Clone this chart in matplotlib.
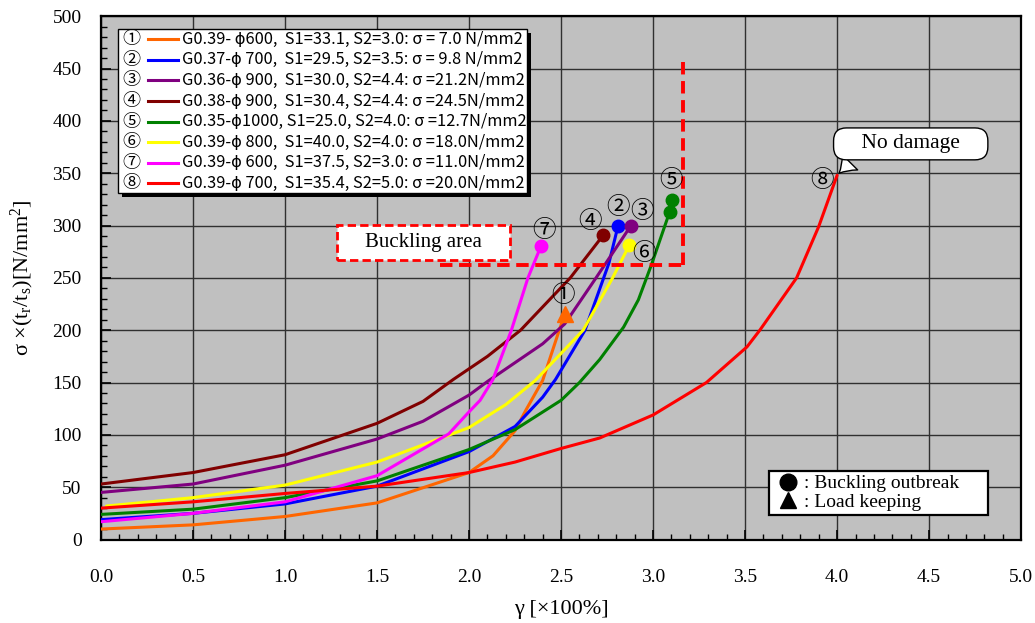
import matplotlib
matplotlib.use("Agg")
import matplotlib.pyplot as plt
from matplotlib.lines import Line2D
from matplotlib.patches import Rectangle
from matplotlib.ticker import MultipleLocator

plt.rcParams['mathtext.fontset'] = 'custom'
plt.rcParams['mathtext.rm'] = 'Liberation Serif'
plt.rcParams['mathtext.it'] = 'Liberation Serif:italic'

SERIF = 'Liberation Serif'
SANS = ['Noto Sans CJK JP', 'DejaVu Sans']
CIRC = ['Noto Sans CJK JP', 'DejaVu Sans']

# ---------------- data ----------------
s1_x = [0, 0.5, 1.0, 1.5, 2.0, 2.13, 2.25, 2.31, 2.40, 2.49, 2.52]
s1_y = [10, 14, 22, 35, 64, 80, 104, 124, 152, 200, 215]
s2_x = [0, 0.5, 1.0, 1.5, 2.0, 2.25, 2.40, 2.47, 2.63, 2.76, 2.81]
s2_y = [19, 25, 34, 51, 84, 108, 136, 153, 200, 264, 300]
s3_x = [0, 0.5, 1.0, 1.5, 1.75, 2.0, 2.1, 2.3, 2.4, 2.52, 2.69, 2.88]
s3_y = [45, 53, 71, 96, 113, 138, 151, 175, 187, 206, 250, 300]
s4_x = [0, 0.5, 1.0, 1.5, 1.75, 1.915, 2.1, 2.28, 2.55, 2.73]
s4_y = [53, 64, 81, 111, 132, 153, 175, 200, 250, 291]
s5_x = [0, 0.5, 1.0, 1.5, 2.0, 2.25, 2.5, 2.6, 2.71, 2.84, 2.92, 2.99, 3.09]
s5_y = [24, 29, 40, 56, 86, 105, 133, 150, 172, 203, 229, 262, 313]
s5_extra_x = [3.105]
s5_extra_y = [324]
s6_x = [0.03, 0.5, 1.0, 1.5, 2.0, 2.2, 2.36, 2.62, 2.78, 2.87]
s6_y = [32, 40, 52, 74, 107, 129, 152, 200, 250, 281]
s7_x = [0, 0.5, 1.0, 1.5, 1.89, 2.0, 2.06, 2.13, 2.23, 2.32, 2.39]
s7_y = [17, 25, 36, 61, 101, 122, 133, 153, 200, 250, 280]
s8_x = [0, 0.5, 1.0, 1.5, 2.0, 2.25, 2.5, 2.71, 3.0, 3.29, 3.51, 3.58, 3.78, 3.90, 4.0]
s8_y = [30, 36, 44, 51, 64, 74, 87, 97, 119, 150, 184, 200, 250, 299, 348]

series_x = [s1_x, s2_x, s3_x, s4_x, s5_x, s6_x, s7_x, s8_x]
series_y = [s1_y, s2_y, s3_y, s4_y, s5_y, s6_y, s7_y, s8_y]
colors = ['#FF6600', '#0000FF', '#800080', '#800000', '#008000', '#FFFF00', '#FF00FF', '#FF0000']
end_markers = ['^', 'o', 'o', 'o', 'o', 'o', 'o', None]
numbers = ['①', '②', '③', '④', '⑤', '⑥', '⑦', '⑧']
legend_labels = [
    'G0.39- ϕ600,  S1=33.1, S2=3.0: σ = 7.0 N/mm2',
    'G0.37-ϕ 700,  S1=29.5, S2=3.5: σ = 9.8 N/mm2',
    'G0.36-ϕ 900,  S1=30.0, S2=4.4: σ =21.2N/mm2',
    'G0.38-ϕ 900,  S1=30.4, S2=4.4: σ =24.5N/mm2',
    'G0.35-ϕ1000, S1=25.0, S2=4.0: σ =12.7N/mm2',
    'G0.39-ϕ 800,  S1=40.0, S2=4.0: σ =18.0N/mm2',
    'G0.39-ϕ 600,  S1=37.5, S2=3.0: σ =11.0N/mm2',
    'G0.39-ϕ 700,  S1=35.4, S2=5.0: σ =20.0N/mm2',
]
# number label positions near curve ends
num_x = [2.51, 2.81, 2.94, 2.66, 3.10, 2.95, 2.41, 3.92]
num_y = [233, 317, 313, 304, 343, 273, 295, 343]

x_ticks = [0.0, 0.5, 1.0, 1.5, 2.0, 2.5, 3.0, 3.5, 4.0, 4.5, 5.0]
y_ticks = [0, 50, 100, 150, 200, 250, 300, 350, 400, 450, 500]

buck_h_x = [1.84, 3.163]
buck_h_y = [262, 262]
buck_v_x = [3.163, 3.163]
buck_v_y = [262, 458]

# ---------------- figure ----------------
fig = plt.figure(figsize=(10.35, 6.23), dpi=100)
ax = fig.add_axes([0.0976, 0.134, 0.889, 0.840])
ax.set_facecolor('#C0C0C0')
ax.set_xlim(0, 5)
ax.set_ylim(0, 500)
ax.set_xticks(x_ticks)
ax.set_yticks(y_ticks)
ax.set_xticklabels([f'{v:.1f}' for v in x_ticks], fontfamily=SERIF, fontsize=14)
ax.set_yticklabels([str(v) for v in y_ticks], fontfamily=SERIF, fontsize=14)
ax.xaxis.set_minor_locator(MultipleLocator(0.1))
ax.yaxis.set_minor_locator(MultipleLocator(10))
ax.tick_params(which='major', direction='in', length=7, width=1.2, pad=21, axis='x')
ax.tick_params(which='major', direction='in', length=7, width=1.2, pad=14, axis='y')
ax.tick_params(which='minor', direction='in', length=4, width=1.0)
ax.grid(True, which='major', color='#303030', lw=1.0)
ax.set_axisbelow(True)
for sp in ax.spines.values():
    sp.set_linewidth(1.6)
    sp.set_color('black')

ax.set_xlabel('γ [×100%]', fontfamily=SERIF, fontsize=16, labelpad=10)
ax.set_ylabel('σ ×(t$_{\\rm r}$/t$_{\\rm s}$)[N/mm$^{2}$]', fontfamily=SERIF, fontsize=16, labelpad=12)

# curves
for xs, ys, c, m in zip(series_x, series_y, colors, end_markers):
    ax.plot(xs, ys, color=c, lw=2.2, solid_capstyle='round', solid_joinstyle='round', zorder=3)
    if m is not None:
        ax.plot(xs[-1:], ys[-1:], marker=m, color=c, ms=9 if m == 'o' else 11, ls='none', zorder=4)
ax.plot(s5_extra_x, s5_extra_y, marker='o', color=colors[4], ms=9, ls='none', zorder=4)

for n, xx, yy in zip(numbers, num_x, num_y):
    ax.text(xx, yy, n, fontfamily=CIRC, fontsize=17, ha='center', va='center', zorder=5)

# buckling boundary
ax.plot(buck_h_x, buck_h_y, color='#FF0000', lw=2.8, dashes=(3.2, 1.7), zorder=3)
ax.plot(buck_v_x, buck_v_y, color='#FF0000', lw=2.8, dashes=(3.2, 1.7), zorder=3)
ax.add_patch(Rectangle((1.283, 267), 0.94, 33.4, fc='white', ec='#FF0000', lw=2.0,
                       ls=(0, (3, 1.5)), zorder=5))
ax.text(1.753, 284, 'Buckling area', fontfamily=SERIF, fontsize=15, ha='center', va='center', zorder=6)

# No damage callout
ax.annotate('    No damage    ', xy=(s8_x[-1], s8_y[-1]), xytext=(4.40, 378),
            fontfamily=SERIF, fontsize=15.5, ha='center', va='center', zorder=6,
            bbox=dict(boxstyle='round,pad=0.3,rounding_size=0.6', fc='white', ec='black', lw=1.0),
            arrowprops=dict(arrowstyle='wedge,tail_width=1.0,shrink_factor=0.4', fc='white', ec='black',
                            lw=1.0, relpos=(0.14, 0.05)))

# main legend (manual)
lx0, lx1, ly0, ly1 = 0.0185, 0.463, 0.662, 0.975
ax.add_patch(Rectangle((lx0 + 0.004, ly0 - 0.007), lx1 - lx0, ly1 - ly0, transform=ax.transAxes,
                       fc='black', ec='none', zorder=6))
ax.add_patch(Rectangle((lx0, ly0), lx1 - lx0, ly1 - ly0, transform=ax.transAxes,
                       fc='white', ec='black', lw=1.0, zorder=7))
for i, (n, lab, c) in enumerate(zip(numbers, legend_labels, colors)):
    py = 39 + 20.6 * i
    yf = (539.5 - py) / 523.5
    ax.text(0.0326, yf, n, transform=ax.transAxes, fontfamily=CIRC, fontsize=13,
            ha='center', va='center', zorder=8)
    ax.plot([0.051, 0.0837], [yf, yf], transform=ax.transAxes, color=c, lw=2.2, zorder=8)
    ax.text(0.088, yf, lab, transform=ax.transAxes, fontfamily=SANS, fontsize=11.8,
            ha='left', va='center', zorder=8)

# marker legend
h = [Line2D([], [], marker='o', color='black', ls='none', ms=12),
     Line2D([], [], marker='^', color='black', ls='none', ms=12)]
leg = ax.legend(h, [': Buckling outbreak     ', ': Load keeping'], loc='lower left',
                bbox_to_anchor=(0.726, 0.047), prop={'family': SERIF, 'size': 14},
                fancybox=False, framealpha=1, edgecolor='black', handlelength=1.6,
                handletextpad=0.0, borderpad=0.2, labelspacing=0.05, borderaxespad=0)
leg.get_frame().set_linewidth(1.6)
leg.set_zorder(9)

fig.savefig('out.png', dpi=100, facecolor='white')
